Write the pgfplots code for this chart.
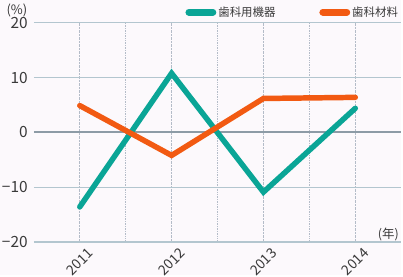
\documentclass[border=0pt]{standalone}
\usepackage{fontspec}
\setmainfont{Noto Sans CJK JP}
\usepackage{pgfplots}
\pgfplotsset{compat=1.18}
\definecolor{teal1}{HTML}{0AA596}
\definecolor{orange1}{HTML}{F25A12}
\definecolor{bgc}{HTML}{FCF9FC}
\definecolor{gridc}{HTML}{B3C6CF}
\definecolor{zeroc}{HTML}{8D9BA6}
\definecolor{dotc}{HTML}{B4BCC8}
\definecolor{txt}{HTML}{3A3A3A}
\begin{document}
\begin{tikzpicture}[x=1pt,y=1pt]
\fill[bgc] (0,0) rectangle (403,276);
\node[anchor=center,font=\fontsize{13}{13}\selectfont,text=txt] at (17,265) {(\%)};
\node[anchor=center,font=\fontsize{12.5}{13}\selectfont,text=txt] at (390,40) {(年)};
\begin{axis}[
  at={(34pt,33pt)}, anchor=south west,
  scale only axis, width=369pt, height=220pt,
  xmin=2010.5, xmax=2014.5, ymin=-20, ymax=20,
  axis line style={draw=none},
  major tick length=0pt, minor tick length=0pt,
  xtick={2011,2012,2013,2014},
  xticklabels={2011,2012,2013,2014},
  minor xtick={2011.5,2012.5,2013.5},
  ytick={-20,-10,0,10,20},
  yticklabels={−20,−10,0,10,20},
  xmajorgrids, xminorgrids, ymajorgrids,
  x grid style={dotc, densely dotted, line width=0.7pt},
  minor x grid style={dotc, densely dotted, line width=0.7pt},
  y grid style={gridc, line width=1.2pt},
  xticklabel style={yshift=-20pt, rotate=45, anchor=center, inner sep=0pt, font=\fontsize{14}{14}\selectfont, text=txt},
  yticklabel style={font=\fontsize{15.5}{16}\selectfont, text=txt, inner sep=0pt, xshift=-6pt},
  /pgf/number format/assume math mode=true,
  legend style={at={(axis description cs:1,1)}, anchor=south east, yshift=1pt, xshift=2pt,
    draw=none, fill=none, font=\fontsize{11.5}{12}\selectfont, text=txt,
    legend columns=2, /tikz/every even column/.append style={column sep=42pt}},
  legend image code/.code={\draw[#1, line width=7pt, line cap=round] (2pt,0pt) -- (26pt,0pt);},
  clip=false,
]
\addplot[zeroc, line width=2pt, forget plot] coordinates {(2010.5,0) (2014.5,0)};
\addplot[teal1, line width=5.5pt, line cap=round, line join=miter] coordinates {(2011,-13.6) (2012,10.8) (2013,-10.9) (2014,4.4)};
\addlegendentry{歯科用機器}
\addplot[orange1, line width=5.5pt, line cap=round, line join=miter] coordinates {(2011,4.9) (2012,-4.2) (2013,6.2) (2014,6.4)};
\addlegendentry{歯科材料}
\end{axis}
\end{tikzpicture}
\end{document}
